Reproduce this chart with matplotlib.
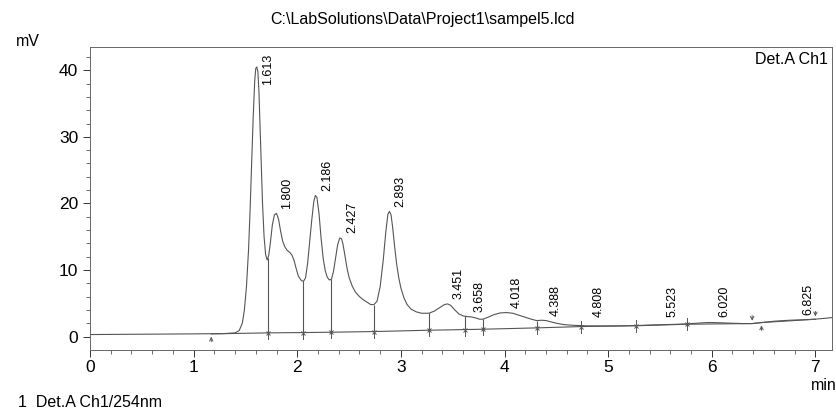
import numpy as np
import matplotlib.pyplot as plt

plt.rcParams['font.family'] = ['Liberation Sans', 'DejaVu Sans']

# chromatogram trace (min, mV)
time_min = [0.0, 0.5, 1.0, 1.3, 1.40, 1.44, 1.47, 1.49, 1.51, 1.53, 1.545, 1.56, 1.575,
            1.59, 1.60, 1.61, 1.62, 1.63, 1.64, 1.65, 1.665, 1.68, 1.695, 1.71, 1.725,
            1.74, 1.76, 1.78, 1.80, 1.82, 1.84, 1.86, 1.88, 1.90, 1.93, 1.95, 1.97,
            1.99, 2.01, 2.04, 2.06, 2.08, 2.10, 2.12, 2.14, 2.16, 2.175, 2.19, 2.21,
            2.23, 2.25, 2.27, 2.29, 2.31, 2.33, 2.35, 2.37, 2.39, 2.41, 2.427, 2.44,
            2.46, 2.48, 2.50, 2.53, 2.56, 2.60, 2.64, 2.68, 2.71, 2.74, 2.77, 2.80,
            2.83, 2.855, 2.875, 2.89, 2.905, 2.92, 2.94, 2.96, 2.98, 3.00, 3.03, 3.06,
            3.10, 3.15, 3.20, 3.27, 3.32, 3.37, 3.42, 3.45, 3.48, 3.52, 3.56, 3.60,
            3.64, 3.68, 3.72, 3.76, 3.79, 3.84, 3.90, 3.96, 4.02, 4.08, 4.14, 4.20,
            4.26, 4.31, 4.36, 4.40, 4.45, 4.50, 4.57, 4.65, 4.74, 4.81, 4.90, 5.00,
            5.10, 5.20, 5.27, 5.35, 5.45, 5.52, 5.60, 5.68, 5.76, 5.85, 5.95, 6.02,
            6.10, 6.20, 6.30, 6.39, 6.48, 6.60, 6.75, 6.85, 6.99, 7.10, 7.19]
signal_mv = [0.3, 0.35, 0.4, 0.45, 0.55, 0.9, 2.0, 4.0, 7.5, 13.0, 19.0, 26.0, 33.0,
             38.5, 40.3, 40.5, 39.8, 37.0, 32.0, 27.0, 20.0, 15.0, 12.3, 11.5, 12.2,
             14.0, 16.8, 18.3, 18.5, 17.6, 15.8, 14.3, 13.5, 13.0, 12.6, 12.2, 11.4,
             10.2, 9.1, 8.4, 8.3, 8.8, 11.0, 14.2, 17.5, 20.3, 21.2, 20.9, 18.5,
             14.8, 11.8, 9.9, 8.9, 8.5, 8.6, 9.8, 11.8, 13.8, 14.8, 14.7, 14.0,
             12.2, 10.3, 8.9, 7.6, 6.7, 6.0, 5.5, 5.1, 4.8, 4.8, 5.3, 7.5,
             11.5, 15.8, 18.4, 18.8, 18.3, 16.5, 13.5, 10.8, 8.8, 7.3, 5.8, 4.8,
             4.1, 3.7, 3.5, 3.5, 3.8, 4.3, 4.8, 4.9, 4.7, 4.0, 3.4, 3.1,
             3.0, 2.95, 2.8, 2.6, 2.6, 2.9, 3.3, 3.55, 3.6, 3.5, 3.2, 2.9,
             2.6, 2.4, 2.45, 2.4, 2.2, 2.0, 1.8, 1.7, 1.65, 1.6, 1.6, 1.6,
             1.6, 1.62, 1.65, 1.7, 1.75, 1.78, 1.8, 1.85, 1.9, 2.0, 2.1, 2.1,
             2.05, 2.0, 1.95, 1.95, 2.1, 2.3, 2.45, 2.5, 2.6, 2.75, 2.9]

# integration baseline points (peak start/end marks)
base_time = [1.17, 1.715, 2.06, 2.33, 2.74, 3.27, 3.62, 3.79, 4.31, 4.74, 5.27, 5.76, 6.39, 6.48, 7.00]
base_mv = [0.4, 0.55, 0.6, 0.65, 0.75, 0.95, 1.05, 1.1, 1.3, 1.5, 1.62, 1.85, 1.95, 2.1, 2.6]
drop_time = [1.715, 2.06, 2.33, 2.74, 3.27, 3.62, 3.79, 4.31]

# peak retention times and apex heights
peak_rt = ['1.613', '1.800', '2.186', '2.427', '2.893', '3.451', '3.658',
           '4.018', '4.388', '4.808', '5.523', '6.020', '6.825']
peak_mv = [40.5, 18.5, 21.2, 14.8, 18.8, 4.9, 3.0, 3.6, 2.4, 1.6, 1.75, 2.1, 2.5]

line_col = '#555555'

fig = plt.figure(figsize=(8.37, 4.16), dpi=100)
ax = fig.add_axes([0.1075, 0.159, 0.8865, 0.728])

ax.plot(time_min, signal_mv, color=line_col, lw=0.8)
ax.plot(base_time, base_mv, color=line_col, lw=0.8)

curve_at = np.interp(drop_time, time_min, signal_mv)
base_at = np.interp(drop_time, base_time, base_mv)
ax.vlines(drop_time, base_at, curve_at, color=line_col, lw=0.8)

# boundary marks on the baseline
up_marks = [base_time[0], base_time[13]]
down_marks = [base_time[12], base_time[14]]
for t, v in zip(base_time, base_mv):
    if t in up_marks:
        ax.annotate('', xy=(t, v), xytext=(t, v - 1.6),
                    arrowprops=dict(arrowstyle='->', color=line_col, lw=0.7, mutation_scale=6))
    elif t in down_marks:
        ax.annotate('', xy=(t, v), xytext=(t, v + 1.6),
                    arrowprops=dict(arrowstyle='->', color=line_col, lw=0.7, mutation_scale=6))
    else:
        ax.plot([t, t], [v - 0.9, v + 0.9], color=line_col, lw=0.7)
        ax.plot(t, v, marker='x', ms=3, color=line_col, mew=0.7)

for rt, h in zip(peak_rt, peak_mv):
    y = min(max(h + 0.7, 2.9), 37.8)
    ax.text(float(rt) + 0.045, y, rt, rotation=90, ha='left', va='bottom', fontsize=9)

ax.set_xlim(0, 7.16)
ax.set_ylim(-2, 43.5)
ax.set_xticks(range(0, 8))
ax.set_xticks(np.arange(0, 7.2, 0.2), minor=True)
ax.set_yticks([0, 10, 20, 30, 40])
ax.set_yticks(np.arange(0, 43, 2), minor=True)
ax.tick_params(axis='both', which='major', direction='out', length=5, width=0.7,
               labelsize=12.5, colors='#333333', labelcolor='black')
ax.tick_params(axis='both', which='minor', direction='out', length=3, width=0.6, colors='#555555')
ax.tick_params(axis='x', which='major', pad=2)
for s in ax.spines.values():
    s.set_linewidth(0.7)
    s.set_color('#666666')

ax.text(0.995, 0.985, 'Det.A Ch1', transform=ax.transAxes, ha='right', va='top', fontsize=11.5)
fig.text(0.505, 0.952, 'C:\\LabSolutions\\Data\\Project1\\sampel5.lcd', ha='center', va='center', fontsize=11.5)
fig.text(0.033, 0.90, 'mV', ha='center', va='center', fontsize=11.5)
fig.text(0.984, 0.074, 'min', ha='center', va='center', fontsize=11.5)
fig.text(0.022, 0.032, '1  Det.A Ch1/254nm', ha='left', va='center', fontsize=11.5)

fig.savefig('out.png', dpi=100)
